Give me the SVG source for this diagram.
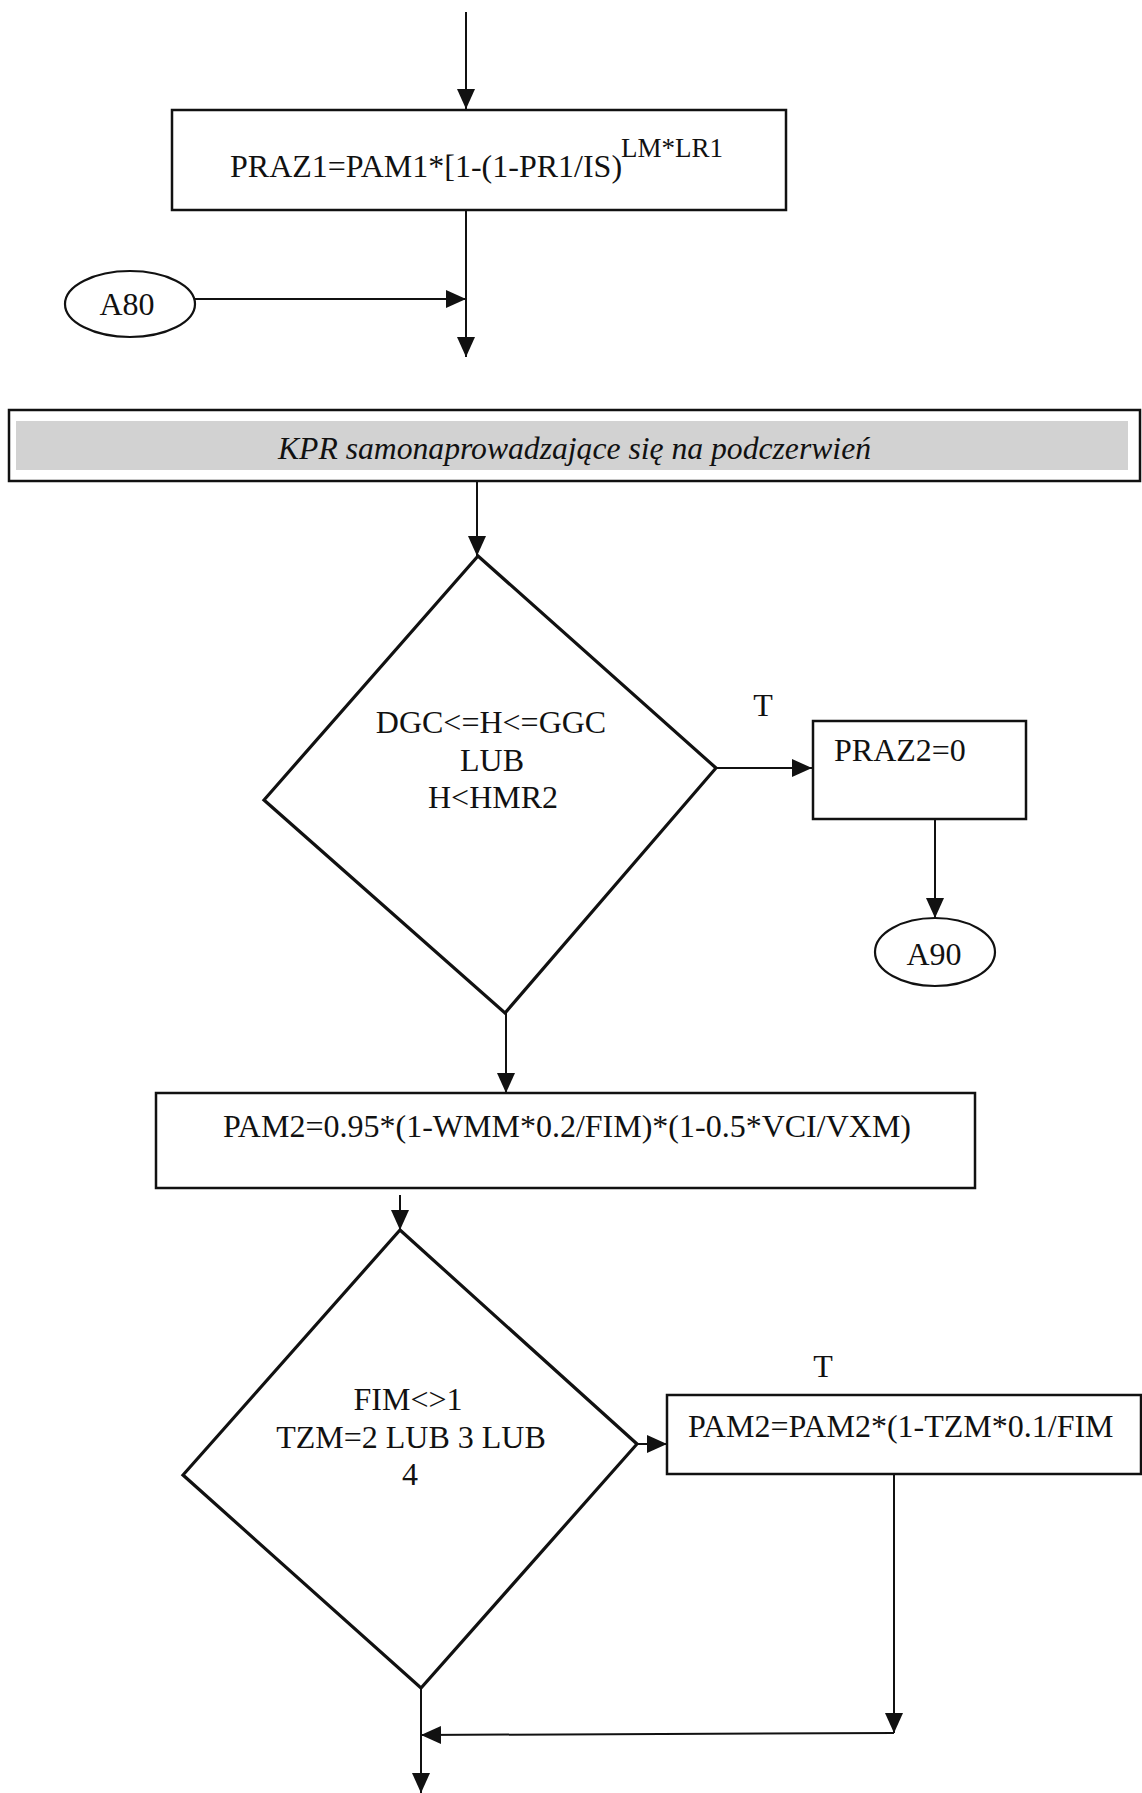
<svg xmlns="http://www.w3.org/2000/svg" width="1142" height="1793" viewBox="0 0 1142 1793">
  <defs>
    <marker id="arrow" markerUnits="userSpaceOnUse" markerWidth="20" markerHeight="20" refX="20" refY="9" orient="auto">
      <path d="M0,0 L20,9 L0,18 Z" fill="#111"/>
    </marker>
    <style>
      .box { fill: #fff; stroke: #111; stroke-width: 2.5; }
      .dec { fill: #fff; stroke: #111; stroke-width: 3.2; stroke-linejoin: miter; }
      .term { fill: #fff; stroke: #111; stroke-width: 2.2; }
      .band { fill: #d2d2d2; stroke: none; }
      .conn { fill: none; stroke: #111; stroke-width: 2; marker-end: url(#arrow); }
      .lbl { font-family: "Liberation Serif", "Times New Roman", serif; font-size: 32px; fill: #111; }
      .mid { text-anchor: middle; }
      .it { font-style: italic; }
    </style>
  </defs>

  <rect width="1142" height="1793" fill="#fff"/>

  <!-- connectors -->
  <g id="connectors">
    <line class="conn" x1="466" y1="12" x2="466" y2="109"/>
    <line class="conn" x1="466" y1="210" x2="466" y2="357"/>
    <line class="conn" x1="195" y1="299" x2="466" y2="299"/>
    <line class="conn" x1="477" y1="481" x2="477" y2="556"/>
    <line class="conn" x1="716" y1="768" x2="812" y2="768"/>
    <line class="conn" x1="935" y1="819" x2="935" y2="918"/>
    <line class="conn" x1="506" y1="1013" x2="506" y2="1093"/>
    <line class="conn" x1="400" y1="1195" x2="400" y2="1230"/>
    <line class="conn" x1="637" y1="1444" x2="667" y2="1444"/>
    <line class="conn" x1="894" y1="1474" x2="894" y2="1733"/>
    <line class="conn" x1="894" y1="1733" x2="421" y2="1735"/>
    <line class="conn" x1="421" y1="1688" x2="421" y2="1793"/>
  </g>

  <!-- process: PRAZ1 -->
  <g id="praz1">
    <rect class="box" x="172" y="110" width="614" height="100"/>
    <text class="lbl" x="230" y="177">PRAZ1=PAM1*[1-(1-PR1/IS)<tspan x="621" y="157" font-size="27" textLength="102" lengthAdjust="spacingAndGlyphs">LM*LR1</tspan></text>
  </g>

  <!-- connector A80 -->
  <g id="a80">
    <ellipse class="term" cx="130" cy="304" rx="65" ry="33"/>
    <text class="lbl mid" x="127" y="315">A80</text>
  </g>

  <!-- section header -->
  <g id="header">
    <rect class="box" x="9" y="410" width="1131" height="71"/>
    <rect class="band" x="16" y="421" width="1112" height="49"/>
    <text class="lbl it" x="278" y="459" font-size="34" textLength="593" lengthAdjust="spacingAndGlyphs">KPR samonaprowadzające się na podczerwień</text>
  </g>

  <!-- decision 1 -->
  <g id="decision1">
    <polygon class="dec" points="478,556 716,768 505,1013 264,800"/>
    <text class="lbl mid" x="491" y="733">DGC&lt;=H&lt;=GGC</text>
    <text class="lbl mid" x="492" y="771">LUB</text>
    <text class="lbl mid" x="493" y="808">H&lt;HMR2</text>
  </g>

  <g id="t1">
    <text class="lbl mid" x="763" y="716">T</text>
  </g>

  <!-- process: PRAZ2 -->
  <g id="praz2">
    <rect class="box" x="813" y="721" width="213" height="98"/>
    <text class="lbl" x="834" y="761">PRAZ2=0</text>
  </g>

  <!-- connector A90 -->
  <g id="a90">
    <ellipse class="term" cx="935" cy="952" rx="60" ry="34"/>
    <text class="lbl mid" x="934" y="965">A90</text>
  </g>

  <!-- process: PAM2 -->
  <g id="pam2">
    <rect class="box" x="156" y="1093" width="819" height="95"/>
    <text class="lbl" x="223" y="1137">PAM2=0.95*(1-WMM*0.2/FIM)*(1-0.5*VCI/VXM)</text>
  </g>

  <!-- decision 2 -->
  <g id="decision2">
    <polygon class="dec" points="400,1230 637,1444 421,1688 183,1475"/>
    <text class="lbl mid" x="408" y="1410">FIM&lt;&gt;1</text>
    <text class="lbl mid" x="411" y="1448">TZM=2 LUB 3 LUB</text>
    <text class="lbl mid" x="410" y="1485">4</text>
  </g>

  <g id="t2">
    <text class="lbl mid" x="823" y="1377">T</text>
  </g>

  <!-- process: PAM2 correction -->
  <g id="pam2corr">
    <rect class="box" x="667" y="1395" width="474" height="79"/>
    <text class="lbl" x="688" y="1437">PAM2=PAM2*(1-TZM*0.1/FIM</text>
  </g>
</svg>
